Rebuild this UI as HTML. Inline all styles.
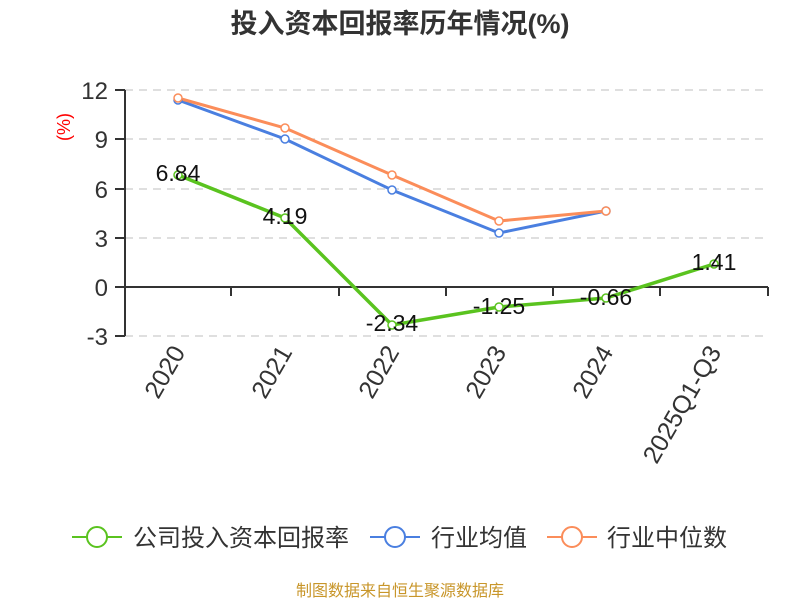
<!DOCTYPE html>
<html><head><meta charset="utf-8"><style>body{margin:0;background:#fff}svg{display:block}</style></head><body>
<svg width="800" height="600" xmlns="http://www.w3.org/2000/svg" font-family="Liberation Sans, Noto Sans CJK SC, sans-serif">
<text x="400" y="33" text-anchor="middle" font-size="27" font-weight="bold" fill="#333">投入资本回报率历年情况(%)</text>
<g stroke="#ccc" stroke-dasharray="8,6" stroke-width="1.3">
<line x1="125" x2="768" y1="90" y2="90"/><line x1="125" x2="768" y1="139" y2="139"/><line x1="125" x2="768" y1="189" y2="189"/><line x1="125" x2="768" y1="238" y2="238"/><line x1="125" x2="768" y1="336" y2="336"/></g>
<g stroke="#333" stroke-width="2">
<line x1="125" y1="90" x2="125" y2="336"/><line x1="125" y1="287" x2="768" y2="287"/>
<line x1="115" x2="125" y1="90" y2="90"/><line x1="115" x2="125" y1="139" y2="139"/><line x1="115" x2="125" y1="189" y2="189"/><line x1="115" x2="125" y1="238" y2="238"/><line x1="115" x2="125" y1="287" y2="287"/><line x1="115" x2="125" y1="336" y2="336"/>
<line x1="231" x2="231" y1="287" y2="296"/><line x1="339" x2="339" y1="287" y2="296"/><line x1="446" x2="446" y1="287" y2="296"/><line x1="553" x2="553" y1="287" y2="296"/><line x1="660" x2="660" y1="287" y2="296"/><line x1="768" x2="768" y1="287" y2="296"/></g>
<g font-size="24" fill="#333" text-anchor="end">
<text x="108" y="99">12</text><text x="108" y="148">9</text><text x="108" y="198">6</text><text x="108" y="247">3</text><text x="108" y="296">0</text><text x="108" y="345">-3</text></g>
<text transform="translate(70,127) rotate(-90)" text-anchor="middle" font-size="18" fill="red">(%)</text>
<g font-size="25" fill="#333" text-anchor="end">
<text transform="translate(186,352) rotate(-60)">2020</text>
<text transform="translate(293,352) rotate(-60)">2021</text>
<text transform="translate(400,352) rotate(-60)">2022</text>
<text transform="translate(507,352) rotate(-60)">2023</text>
<text transform="translate(614,352) rotate(-60)">2024</text>
<text transform="translate(722,352) rotate(-60)">2025Q1-Q3</text></g>
<polyline fill="none" stroke="#4a7fe0" stroke-width="3" points="178,100 285,139 392,190 499,233 606,211"/>
<polyline fill="none" stroke="#fb8d5a" stroke-width="3" points="178,98 285,128 392,175 499,221 606,211"/>
<polyline fill="none" stroke="#5ac31f" stroke-width="3.5" points="178,175 285,218 392,325 499,307 606,298 714,264"/>
<g fill="#fff" stroke-width="1.5">
<g stroke="#4a7fe0"><circle cx="178" cy="100" r="4"/><circle cx="285" cy="139" r="4"/><circle cx="392" cy="190" r="4"/><circle cx="499" cy="233" r="4"/><circle cx="606" cy="211" r="4"/></g>
<g stroke="#fb8d5a"><circle cx="178" cy="98" r="4"/><circle cx="285" cy="128" r="4"/><circle cx="392" cy="175" r="4"/><circle cx="499" cy="221" r="4"/><circle cx="606" cy="211" r="4"/></g>
<g stroke="#5ac31f"><circle cx="178" cy="175" r="4"/><circle cx="285" cy="218" r="4"/><circle cx="392" cy="325" r="4"/><circle cx="499" cy="307" r="4"/><circle cx="606" cy="298" r="4"/><circle cx="714" cy="264" r="4"/></g></g>
<g font-size="23" fill="#111" text-anchor="middle">
<text x="178" y="181">6.84</text><text x="285" y="224">4.19</text><text x="392" y="331">-2.34</text><text x="499" y="314">-1.25</text><text x="606" y="305">-0.66</text><text x="714" y="270">1.41</text></g>
<g stroke-width="2" fill="#fff">
<line x1="72" x2="122" y1="537" y2="537" stroke="#5ac31f"/><circle cx="97" cy="537" r="10" stroke="#5ac31f"/>
<line x1="370" x2="420" y1="537" y2="537" stroke="#4a7fe0"/><circle cx="395" cy="537" r="10" stroke="#4a7fe0"/>
<line x1="547" x2="597" y1="537" y2="537" stroke="#fb8d5a"/><circle cx="572" cy="537" r="10" stroke="#fb8d5a"/></g>
<g font-size="24" fill="#333">
<text x="133" y="546">公司投入资本回报率</text><text x="431" y="546">行业均值</text><text x="607" y="546">行业中位数</text></g>
<text x="400" y="596" text-anchor="middle" font-size="16" fill="#c8962a">制图数据来自恒生聚源数据库</text>
</svg></body></html>
